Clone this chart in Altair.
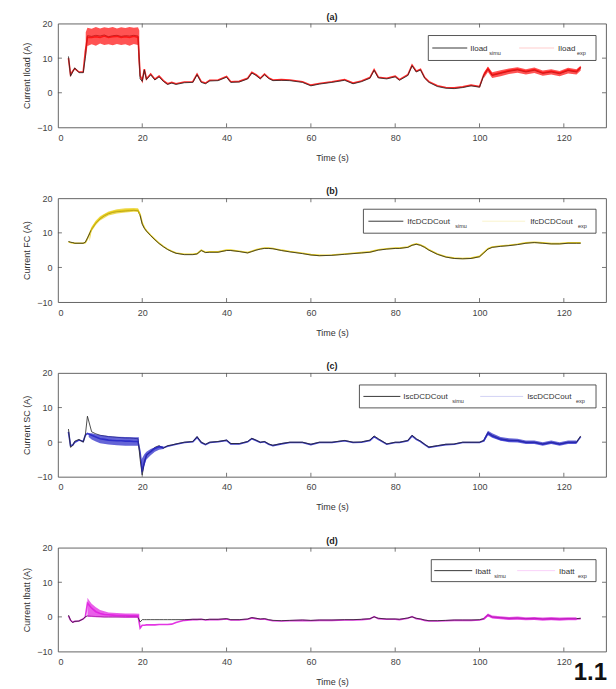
import altair as alt
import pandas as pd

# ---------------- data ----------------
T = [2.5, 3, 3.5, 4, 5, 6, 6.5, 7, 8, 9,
     10, 11, 12, 13, 14, 15, 16, 17, 18, 19,
     19.5, 20, 20.5, 21, 22, 23, 24, 25, 26, 27,
     28, 30, 32, 33, 34, 35, 36, 38, 40, 41,
     43, 45, 46, 47, 48, 49, 50, 51, 53, 55,
     58, 60, 62, 65, 68, 70, 72, 74, 75, 76,
     78, 80, 81, 83, 84, 85, 86, 87, 88, 90,
     92, 94, 96, 98, 100, 101, 102, 103, 105, 107,
     109, 111, 113, 115, 117, 119, 121, 123, 124]

IL_SIM = [10.5, 4.8, 6.0, 7.2, 5.8, 5.8, 10.0, 16.5, 16.3, 16.6,
          16.4, 16.7, 16.2, 16.5, 16.6, 16.3, 16.5, 16.4, 16.6, 16.4,
          4.0, 3.3, 6.6, 3.8, 5.2, 3.7, 4.6, 3.3, 2.4, 2.8,
          2.4, 2.9, 3.0, 5.2, 3.0, 2.6, 3.4, 3.5, 4.5, 3.0,
          3.1, 4.0, 5.7, 5.0, 4.0, 5.2, 4.1, 3.5, 3.6, 3.5,
          3.0, 2.0, 2.5, 3.0, 3.6, 2.6, 3.2, 4.2, 6.5, 4.3,
          4.0, 4.6, 3.6, 5.0, 7.8, 6.0, 6.6, 4.2, 3.0, 1.8,
          1.3, 1.2, 1.5, 2.0, 1.6, 5.0, 6.8, 5.0, 5.6, 6.2,
          6.6, 6.0, 6.5, 5.6, 6.0, 5.5, 6.4, 6.0, 7.2]
IL_EXP = [10.0, 5.2, 6.2, 7.0, 6.0, 6.0, 12.0, 16.0, 16.0, 16.2,
          16.0, 16.4, 16.0, 16.2, 16.3, 16.0, 16.2, 16.0, 16.3, 16.0,
          5.0, 3.5, 6.8, 4.0, 5.4, 3.9, 4.8, 3.5, 2.6, 3.0,
          2.6, 3.1, 3.2, 5.4, 3.2, 2.8, 3.6, 3.7, 4.7, 3.2,
          3.3, 4.2, 5.9, 5.2, 4.2, 5.4, 4.3, 3.7, 3.8, 3.7,
          3.2, 2.2, 2.7, 3.2, 3.8, 2.8, 3.4, 4.4, 6.7, 4.5,
          4.2, 4.8, 3.8, 5.2, 8.0, 6.2, 6.8, 4.4, 3.2, 2.0,
          1.5, 1.4, 1.7, 2.2, 1.8, 5.2, 7.0, 5.2, 5.8, 6.4,
          6.8, 6.2, 6.7, 5.8, 6.2, 5.7, 6.6, 6.2, 7.4]

FC_SIM = [7.5, 7.3, 7.2, 7.0, 7.0, 7.0, 7.3, 8.5, 11.0, 12.8,
          14.0, 14.9, 15.5, 15.9, 16.1, 16.2, 16.3, 16.4, 16.5, 16.4,
          15.0, 12.5, 11.3, 10.5, 9.2, 8.0, 6.9, 6.0, 5.2, 4.6,
          4.1, 3.7, 3.7, 3.9, 4.9, 4.3, 4.4, 4.4, 4.9, 4.9,
          4.6, 4.2, 4.6, 5.0, 5.3, 5.5, 5.5, 5.4, 4.9, 4.5,
          4.0, 3.6, 3.4, 3.5, 3.8, 4.0, 4.2, 4.4, 4.7, 5.0,
          5.3, 5.5, 5.5, 5.8, 6.4, 6.7, 6.4, 5.8, 5.0, 3.8,
          3.0, 2.6, 2.5, 2.6, 3.1, 4.2, 5.3, 5.8, 6.1, 6.3,
          6.6, 7.0, 7.2, 7.0, 6.8, 6.8, 7.0, 7.0, 7.0]
FC_EXP = [7.4, 7.2, 7.1, 7.0, 7.0, 7.0, 7.2, 8.3, 11.2, 13.0,
          14.2, 15.1, 15.7, 16.1, 16.3, 16.4, 16.5, 16.6, 16.6, 16.5,
          15.3, 12.8, 11.5, 10.6, 9.3, 8.1, 7.0, 6.1, 5.3, 4.7,
          4.2, 3.8, 3.8, 4.0, 5.0, 4.4, 4.5, 4.5, 5.0, 5.0,
          4.7, 4.3, 4.7, 5.1, 5.4, 5.6, 5.6, 5.5, 5.0, 4.6,
          4.1, 3.7, 3.5, 3.6, 3.9, 4.1, 4.3, 4.5, 4.8, 5.1,
          5.4, 5.6, 5.6, 5.9, 6.5, 6.8, 6.5, 5.9, 5.1, 3.9,
          3.1, 2.7, 2.6, 2.7, 3.2, 4.3, 5.4, 5.9, 6.2, 6.4,
          6.7, 7.1, 7.3, 7.1, 6.9, 6.9, 7.1, 7.1, 7.1]

SC_SIM = [3.8, -1.5, -1.0, 0.3, 0.8, 0.0, 2.0, 7.5, 3.0, 2.4,
          2.0, 1.8, 1.6, 1.5, 1.4, 1.3, 1.2, 1.2, 1.1, 1.0,
          -5.0, -9.5, -5.5, -4.0, -2.5, -1.5, -1.0, -1.8, -1.0, -0.8,
          -0.5, 0.0, 0.2, 1.6, 0.0, -0.6, 0.0, 0.2, 0.6, -0.4,
          -0.4, 0.2, 1.1, 0.6, 0.0, 0.2, -0.5, -0.9, -0.4, 0.0,
          0.0, -0.6, 0.0, 0.0, 0.5, 0.0, 0.1, 0.6, 1.8, 1.0,
          -0.5, 0.0, 0.0, 0.5, 2.0, 1.0, 0.3, -0.6, -1.4, -1.0,
          -0.6, -0.5, 0.0, 0.0, 0.0, 0.5, 2.8, 2.0, 1.0, 0.6,
          0.5, 0.0, 0.0, -0.5, 0.0, -0.5, 0.0, 0.0, 1.8]
SC_EXP = [3.0, -1.0, -0.8, 0.0, 0.6, 0.2, 2.0, 2.5, 2.0, 1.5,
          1.0, 0.8, 0.6, 0.5, 0.4, 0.4, 0.3, 0.3, 0.2, 0.2,
          -3.0, -8.5, -6.0, -3.6, -2.8, -1.8, -1.3, -1.6, -1.2, -0.9,
          -0.6, -0.1, 0.1, 1.4, -0.1, -0.7, -0.1, 0.1, 0.5, -0.5,
          -0.5, 0.1, 1.0, 0.5, -0.1, 0.1, -0.6, -1.0, -0.5, -0.1,
          -0.1, -0.7, -0.1, -0.1, 0.4, -0.1, 0.0, 0.5, 1.6, 0.8,
          -0.6, -0.1, -0.1, 0.4, 1.8, 0.8, 0.2, -0.7, -1.5, -1.1,
          -0.7, -0.6, -0.1, -0.1, -0.1, 0.4, 2.6, 1.8, 0.8, 0.4,
          0.4, -0.1, -0.1, -0.6, -0.1, -0.6, -0.1, -0.1, 1.6]

BT_SIM = [0.5, -1.0, -1.6, -1.3, -1.2, -0.6, 0.0, 0.3, 0.2, 0.1,
          0.1, 0.0, 0.0, 0.0, 0.0, 0.0, 0.0, 0.0, 0.0, 0.0,
          -1.5, -0.8, -0.8, -0.8, -0.8, -0.8, -0.8, -0.8, -0.8, -0.8,
          -0.8, -0.8, -0.7, -0.7, -0.7, -0.8, -0.7, -0.7, -0.5, -0.8,
          -0.8, -0.6, -0.2, -0.4, -0.6, -0.5, -0.8, -1.0, -1.1, -1.0,
          -0.9, -1.0, -0.9, -0.9, -0.8, -0.8, -0.7, -0.5, 0.0, -0.4,
          -0.6, -0.6, -0.7, -0.3, 0.0, -0.4, -0.6, -0.9, -1.1, -1.1,
          -1.0, -0.9, -0.9, -0.9, -0.8, -0.5, 0.6, 0.0, -0.2, -0.4,
          -0.3, -0.5, -0.4, -0.6, -0.5, -0.6, -0.5, -0.5, -0.4]
BT_EXP = [0.3, -1.0, -1.5, -1.3, -1.2, -0.6, 0.0, 4.0, 2.5, 1.5,
          1.0, 0.7, 0.6, 0.5, 0.4, 0.4, 0.4, 0.3, 0.3, 0.3,
          -3.2, -2.4, -2.4, -2.3, -2.3, -2.3, -2.2, -2.2, -2.2, -2.1,
          -1.6, -1.0, -0.8, -0.8, -0.7, -0.9, -0.8, -0.8, -0.6, -0.9,
          -0.9, -0.7, -0.3, -0.5, -0.7, -0.6, -0.9, -1.1, -1.2, -1.1,
          -1.0, -1.1, -1.0, -1.0, -0.9, -0.9, -0.8, -0.6, 0.1, -0.5,
          -0.7, -0.7, -0.8, -0.4, 0.1, -0.5, -0.7, -1.0, -1.2, -1.2,
          -1.1, -1.0, -1.0, -1.0, -0.9, -0.6, 0.5, -0.1, -0.3, -0.5,
          -0.4, -0.6, -0.5, -0.7, -0.6, -0.7, -0.6, -0.6, -0.5]

# noisy envelope of the measured signal (segment id, time, low, high)
BA_SEG = [1] * 15 + [2] * 14
BA_T = [6.6, 7, 8, 9, 10, 11, 12, 13, 14, 15, 16, 17, 18, 19, 19.3,
        101, 102, 103, 105, 107, 109, 111, 113, 115, 117, 119, 121, 123, 124]
BA_LO = [10.0, 13.5, 14.0, 13.6, 14.2, 13.8, 14.0, 13.7, 14.1, 13.8, 14.0, 13.6, 14.1, 13.8, 5.0,
         4.2, 6.0, 4.3, 4.8, 5.4, 5.8, 5.3, 5.7, 4.9, 5.3, 4.8, 5.6, 5.3, 6.4]
BA_HI = [17.5, 18.8, 18.5, 19.0, 18.6, 18.9, 18.7, 19.0, 18.6, 18.9, 18.7, 19.0, 18.8, 18.9, 18.0,
         5.8, 7.6, 5.9, 6.5, 7.0, 7.4, 6.8, 7.3, 6.4, 6.8, 6.3, 7.2, 6.8, 7.8]

BB_SEG = [1] * 10
BB_T = [7.5, 8, 9, 10, 12, 14, 16, 18, 19, 19.5]
BB_LO = [7.5, 10.5, 12.3, 13.6, 15.0, 15.6, 15.9, 16.1, 16.0, 14.8]
BB_HI = [8.8, 11.8, 13.6, 14.8, 16.2, 16.8, 17.1, 17.2, 17.1, 15.6]

BC_SEG = [1] * 9 + [2] * 7 + [3] * 13
BC_T = [7.3, 8, 9, 10, 12, 14, 16, 18, 19.2,
        19.8, 20.5, 21, 22, 23, 24, 25,
        101, 102, 103, 105, 107, 109, 111, 113, 115, 117, 119, 121, 123]
BC_LO = [1.5, 0.8, 0.2, -0.3, -0.7, -0.9, -1.0, -1.0, -1.0,
         -9.5, -6.5, -5.0, -3.8, -2.8, -2.2, -2.0,
         0.0, 2.0, 1.3, 0.4, 0.0, -0.1, -0.5, -0.5, -1.0, -0.5, -1.0, -0.5, -0.5]
BC_HI = [2.6, 2.6, 2.3, 2.1, 1.8, 1.6, 1.5, 1.4, 1.4,
         -5.0, -3.5, -2.8, -2.0, -1.5, -1.0, -1.2,
         0.9, 3.3, 2.6, 1.5, 1.1, 1.0, 0.5, 0.5, 0.0, 0.5, 0.0, 0.5, 0.5]

BD_SEG = [1] * 11 + [2] * 13
BD_T = [7, 7.5, 8, 9, 10, 11, 12, 14, 16, 18, 19.3,
        101, 102, 103, 105, 107, 109, 111, 113, 115, 117, 119, 121, 123]
BD_LO = [0.0, 0.0, 0.0, -0.1, -0.2, -0.2, -0.2, -0.2, -0.3, -0.3, -0.3,
         -0.9, 0.1, -0.5, -0.7, -0.9, -0.8, -1.0, -0.9, -1.1, -1.0, -1.1, -1.0, -1.0]
BD_HI = [5.5, 4.6, 3.8, 2.8, 2.0, 1.6, 1.3, 1.1, 1.0, 1.0, 0.9,
         -0.2, 1.0, 0.4, 0.2, 0.0, 0.1, -0.1, 0.0, -0.2, 0.0, -0.2, -0.1, -0.1]

X_TICKS = [0, 20, 40, 60, 80, 100, 120]
Y_TICKS = [-10, 0, 10, 20]
TITLES = ["(a)", "(b)", "(c)", "(d)"]
Y_TITLES = ["Current Iload (A)", "Current FC (A)", "Current SC (A)", "Current Ibatt (A)"]
LEG_NAMES = ["Iload", "IfcDCDCout", "IscDCDCout", "Ibatt"]
SUB_SIM = "simu"
SUB_EXP = "exp"
CORNER_TEXT = "1.1"
COLORS = ["#ff1010", "#e8cc10", "#2828c8", "#e020e0"]

# ---------------- layout ----------------
W, H = 549, 104
FONT = "Liberation Sans"
# legend geometry per panel: box x0,x1,y0,y1; sample1 x0,x1; name1 x; sub1 x; sample2 x0,x1; name2 x; sub2 x
LEG = [
    dict(box=(371, 539, 12, 37), s1=(375, 410), n1=413, u1=432, s2=(462, 497), n2=501, u2=520),
    dict(box=(306, 539, 11, 35), s1=(311, 346), n1=350, u1=398, s2=(425, 468), n2=473, u2=521),
    dict(box=(302, 539, 12, 35), s1=(306, 343), n1=346, u1=395, s2=(423, 466), n2=470, u2=519),
    dict(box=(374, 539, 12, 34), s1=(377, 415), n1=418, u1=437, s2=(460, 498), n2=502, u2=521),
]

one = pd.DataFrame({"k": [0]})


def panel(i, sim, exp, bseg, bt, blo, bhi):
    color = COLORS[i]
    xs = alt.Scale(domain=[0, 130], nice=False, zero=False)
    ys = alt.Scale(domain=[-10, 20], nice=False, zero=False)
    xax = alt.Axis(values=X_TICKS, title="Time (s)")
    yax = alt.Axis(values=Y_TICKS, title=Y_TITLES[i])
    df = pd.DataFrame({"t": T, "sim": sim, "exp": exp})
    bdf = pd.DataFrame({"seg": bseg, "t": bt, "lo": blo, "hi": bhi})

    X = alt.X("t:Q", scale=xs, axis=xax)
    exp_line = alt.Chart(df).mark_line(color=color, strokeWidth=1.6, opacity=0.9).encode(
        x=X, y=alt.Y("exp:Q", scale=ys, axis=yax))
    sim_line = alt.Chart(df).mark_line(color="#222222", strokeWidth=0.8).encode(
        x=X, y=alt.Y("sim:Q", scale=ys, axis=yax))
    band = alt.Chart(bdf).mark_area(color=color, opacity=0.72).encode(
        x=X, y=alt.Y("lo:Q", scale=ys, axis=yax), y2="hi:Q", detail="seg:N")

    xt = pd.DataFrame({"t": X_TICKS[1:]})
    yt = pd.DataFrame({"v": Y_TICKS[1:-1]})
    tick_style = dict(color="#555555", strokeWidth=0.8)
    xt_top = alt.Chart(xt).mark_rule(**tick_style).encode(x=X, y=alt.value(0), y2=alt.value(4))
    xt_bot = alt.Chart(xt).mark_rule(**tick_style).encode(x=X, y=alt.value(H - 4), y2=alt.value(H))
    yt_l = alt.Chart(yt).mark_rule(**tick_style).encode(
        y=alt.Y("v:Q", scale=ys, axis=yax), x=alt.value(0), x2=alt.value(4))
    yt_r = alt.Chart(yt).mark_rule(**tick_style).encode(
        y=alt.Y("v:Q", scale=ys, axis=yax), x=alt.value(W - 4), x2=alt.value(W))

    g = LEG[i]
    bx0, bx1, by0, by1 = g["box"]
    ymid = (by0 + by1) / 2
    box = alt.Chart(one).mark_rect(fill="white", stroke="#444444", strokeWidth=0.9).encode(
        x=alt.value(bx0), x2=alt.value(bx1), y=alt.value(by0), y2=alt.value(by1))
    s1 = alt.Chart(one).mark_rule(color="#222222", strokeWidth=0.9).encode(
        x=alt.value(g["s1"][0]), x2=alt.value(g["s1"][1]), y=alt.value(ymid))
    s2 = alt.Chart(one).mark_rule(color=color, strokeWidth=0.6, opacity=0.35).encode(
        x=alt.value(g["s2"][0]), x2=alt.value(g["s2"][1]), y=alt.value(ymid))
    tkw = dict(align="left", baseline="alphabetic", font=FONT, fill="#333333")
    n1 = alt.Chart(one).mark_text(fontSize=8, text=LEG_NAMES[i], **tkw).encode(
        x=alt.value(g["n1"]), y=alt.value(ymid + 3), color=alt.value("#333333"))
    u1 = alt.Chart(one).mark_text(fontSize=5.5, text=SUB_SIM, **tkw).encode(
        x=alt.value(g["u1"]), y=alt.value(ymid + 7), color=alt.value("#333333"))
    n2 = alt.Chart(one).mark_text(fontSize=8, text=LEG_NAMES[i], **tkw).encode(
        x=alt.value(g["n2"]), y=alt.value(ymid + 3), color=alt.value("#333333"))
    u2 = alt.Chart(one).mark_text(fontSize=5.5, text=SUB_EXP, **tkw).encode(
        x=alt.value(g["u2"]), y=alt.value(ymid + 7), color=alt.value("#333333"))

    layers = [exp_line, sim_line, band, xt_top, xt_bot, yt_l, yt_r, box, s1, s2, n1, u1, n2, u2]
    if i == 3:
        big = alt.Chart(one).mark_text(text=CORNER_TEXT, fontSize=24, fontWeight="bold", font=FONT,
                                       align="right", baseline="bottom", fill="#111111").encode(
            x=alt.value(W + 1), y=alt.value(H + 34), color=alt.value("#111111"))
        layers.append(big)
    return alt.layer(*layers).properties(
        width=W, height=H,
        title=alt.TitleParams(TITLES[i], fontSize=9, fontWeight="bold", font=FONT,
                              anchor="middle", offset=-2, frame="group", color="#222222"))


p1 = panel(0, IL_SIM, IL_EXP, BA_SEG, BA_T, BA_LO, BA_HI)
p2 = panel(1, FC_SIM, FC_EXP, BB_SEG, BB_T, BB_LO, BB_HI)
p3 = panel(2, SC_SIM, SC_EXP, BC_SEG, BC_T, BC_LO, BC_HI)
p4 = panel(3, BT_SIM, BT_EXP, BD_SEG, BD_T, BD_LO, BD_HI)

chart = alt.vconcat(p1, p2, p3, p4, spacing=23).properties(
    padding={"left": 14, "top": 3, "right": 0, "bottom": 0}
).configure_view(stroke="#555555", strokeWidth=0.9).configure_axis(
    grid=False, ticks=False, domain=False,
    labelFont=FONT, titleFont=FONT, labelFontSize=9, titleFontSize=9,
    labelColor="#444444", titleColor="#333333", titleFontWeight="normal",
    labelPadding=6, titlePadding=6,
).configure_axisX(titlePadding=11).configure_axisY(titlePadding=5)

chart.save("out.html", embed_options={"renderer": "svg", "actions": False})
